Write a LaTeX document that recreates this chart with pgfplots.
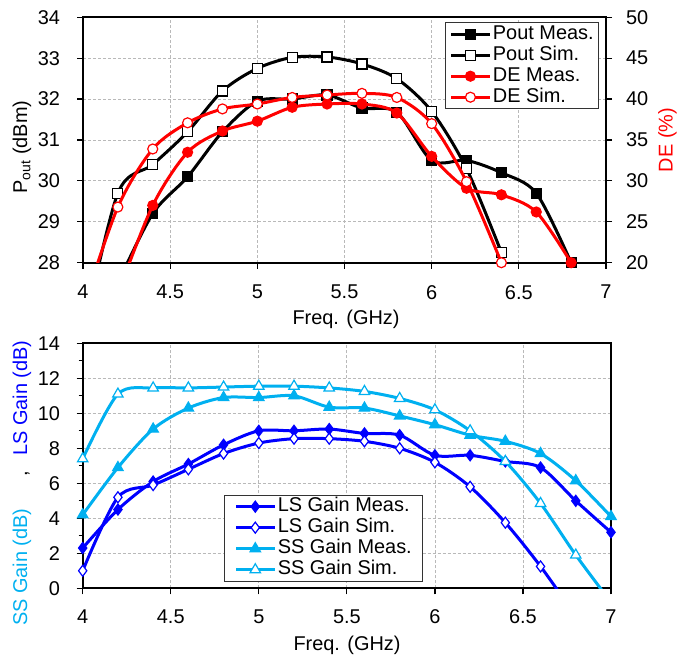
\documentclass[border=0pt]{standalone}
\usepackage{fontspec}
\setmainfont{Liberation Sans}
\usepackage{pgfplots}
\usepackage{pgfplotstable}
\pgfplotsset{compat=1.18}
\definecolor{ssblue}{RGB}{0,176,240}
\definecolor{lsblue}{RGB}{0,0,255}
\definecolor{gridgray}{RGB}{185,185,185}
\newcommand\fs{\fontsize{20}{22}\selectfont}

% series with a point outside the axis range keep it only for the curve
\pgfplotstableread{
f v
4.2 27.5
4.4 29.2
4.6 30.1
4.8 31.2
5.0 31.95
5.2 32.0
5.4 32.1
5.6 31.78
5.8 31.68
6.0 30.5
6.2 30.5
6.4 30.2
6.6 29.7
6.8 28.0
}\poutmeas
\pgfplotstableread{
f v
4.0 26.2
4.2 29.7
4.4 30.4
4.6 31.2
4.8 32.2
5.0 32.75
5.2 33.02
5.4 33.03
5.6 32.86
5.8 32.5
6.0 31.7
6.2 30.3
6.4 28.25
}\poutsim
\pgfplotstableread{
f v
4.2 16.2
4.4 27.0
4.6 33.5
4.8 36.1
5.0 37.3
5.2 39.0
5.4 39.4
5.6 39.4
5.8 38.3
6.0 33.0
6.2 29.1
6.4 28.3
6.6 26.2
6.8 20.0
}\demeas
\pgfplotstableread{
f v
4.0 14.5
4.2 26.8
4.4 33.9
4.6 37.1
4.8 38.8
5.0 39.4
5.2 40.2
5.4 40.5
5.6 40.7
5.8 40.2
6.0 37.0
6.2 29.9
6.4 20.0
}\desim
\pgfplotstableread{
f v
4.0 1.0
4.2 5.2
4.4 5.9
4.6 6.8
4.8 7.7
5.0 8.3
5.2 8.55
5.4 8.55
5.6 8.4
5.8 8.0
6.0 7.2
6.2 5.8
6.4 3.75
6.6 1.25
6.8 -1.6
}\lssim
\pgfplotstableread{
f v
4.0 7.4
4.2 11.1
4.4 11.45
4.6 11.45
4.8 11.5
5.0 11.55
5.2 11.55
5.4 11.45
5.6 11.25
5.8 10.85
6.0 10.2
6.2 9.0
6.4 7.25
6.6 4.85
6.8 1.9
7.0 -0.8
}\sssim

\pgfplotsset{
  chart/.style={
    scale only axis, xmin=4, xmax=7,
    xtick={4,4.5,...,7},
    /pgf/number format/assume math mode=true,
    tick label style={font=\fs, black},
    tick align=outside, major tick length=6bp, minor tick length=4bp,
    tick style={black, line width=1.2bp},
    axis line style={black, line width=1.8bp},
    xtick pos=bottom,
    grid=major,
    major grid style={gridgray, dash pattern=on 3bp off 2bp, line width=0.8bp},
    legend cell align=left,
    legend image code/.code={\draw[mark repeat=2,mark phase=2]
      plot coordinates {(0bp,0bp)(19bp,0bp)(38bp,0bp)};},
    legend style={font=\fs, draw=black!80, line width=1bp, fill=white,
      inner ysep=1bp, row sep=0pt, column sep=1bp,
      nodes={inner sep=1bp, text height=14.5bp, text depth=4.5bp}},
    clip mode=individual,
  },
  ser/.style={smooth, line width=3bp},
  mk/.style={mark options={solid, line width=1.2bp, fill=#1}},
  pm/.style={ser, black, mark=square*, mark size=5bp, mk=black},
  ps/.style={ser, black, mark=square*, mark size=5bp, mk=white},
  dm/.style={ser, red, mark=*, mark size=5bp, mk=red},
  ds/.style={ser, red, mark=*, mark size=5bp, mk=white},
  lm/.style={ser, lsblue, mark=diamond*, mark size=5.5bp, mk=lsblue},
  ls/.style={ser, lsblue, mark=diamond*, mark size=5.5bp, mk=white},
  sm/.style={ser, ssblue, mark=triangle*, mark size=6bp, mk=ssblue},
  ss/.style={ser, ssblue, mark=triangle*, mark size=6bp, mk=white},
}

\begin{document}
\begin{tikzpicture}
\path[use as bounding box] (0bp,0bp) rectangle (689bp,661bp);

% top: output power (left axis)
\begin{axis}[chart, at={(83bp,398.3bp)}, anchor=south west,
  width=523bp, height=245.4bp, ytick pos=left,
  ymin=28, ymax=34, ytick={28,...,34},
  xticklabel style={yshift=-13bp}, yticklabel style={xshift=-13.5bp}]
\addplot[pm, mark=none] table[x=f, y=v] {\poutmeas};
\addplot[pm, only marks, skip coords between index={0}{1}] table[x=f, y=v] {\poutmeas};
\addplot[ps, mark=none] table[x=f, y=v] {\poutsim};
\addplot[ps, only marks, skip coords between index={0}{1}] table[x=f, y=v] {\poutsim};
\end{axis}

% top: drain efficiency (right axis)
\begin{axis}[chart, at={(83bp,398.3bp)}, anchor=south west,
  width=523bp, height=245.4bp, grid=none,
  axis x line=none, axis y line*=right,
  ymin=20, ymax=50, ytick={20,25,...,50},
  yticklabel style={xshift=10.5bp},
  legend style={at={(0.987,0.98)}, anchor=north east, inner xsep=4bp}]
\addlegendimage{pm}\addlegendentry{Pout Meas.}
\addlegendimage{ps}\addlegendentry{Pout Sim.}
\addlegendimage{dm}\addlegendentry{DE Meas.}
\addlegendimage{ds}\addlegendentry{DE Sim.}
\addplot[dm, mark=none, forget plot] table[x=f, y=v] {\demeas};
\addplot[dm, only marks, forget plot, skip coords between index={0}{1}] table[x=f, y=v] {\demeas};
\addplot[ds, mark=none, forget plot] table[x=f, y=v] {\desim};
\addplot[ds, only marks, forget plot, skip coords between index={0}{1}] table[x=f, y=v] {\desim};
\end{axis}

% bottom: gains
\begin{axis}[chart, at={(82.7bp,72.7bp)}, anchor=south west,
  width=528.3bp, height=245bp, ytick pos=left,
  ymin=0, ymax=14, ytick={0,2,...,14}, minor y tick num=1,
  xticklabel style={yshift=-11.5bp}, yticklabel style={xshift=-13.2bp},
  legend style={at={(0.268,0.027)}, anchor=south west, inner xsep=10bp}]
\addlegendimage{lm}\addlegendentry{LS Gain Meas.}
\addlegendimage{ls}\addlegendentry{LS Gain Sim.}
\addlegendimage{sm}\addlegendentry{SS Gain Meas.}
\addlegendimage{ss}\addlegendentry{SS Gain Sim.}
\addplot[lm, forget plot] coordinates {
  (4.0,2.3) (4.2,4.5) (4.4,6.1) (4.6,7.1) (4.8,8.2) (5.0,9.0) (5.2,9.0) (5.4,9.1)
  (5.6,8.85) (5.8,8.75) (6.0,7.6) (6.2,7.6) (6.4,7.25) (6.6,6.9) (6.8,5.0) (7.0,3.2)};
\addplot[ls, mark=none, forget plot] table[x=f, y=v] {\lssim};
\addplot[ls, only marks, forget plot, skip coords between index={14}{15}] table[x=f, y=v] {\lssim};
\addplot[sm, forget plot] coordinates {
  (4.0,4.2) (4.2,6.9) (4.4,9.1) (4.6,10.3) (4.8,10.9) (5.0,10.9) (5.2,11.0) (5.4,10.35)
  (5.6,10.3) (5.8,9.85) (6.0,9.35) (6.2,8.75) (6.4,8.4) (6.6,7.7) (6.8,6.15) (7.0,4.1)};
\addplot[ss, mark=none, forget plot] table[x=f, y=v] {\sssim};
\addplot[ss, only marks, forget plot, skip coords between index={15}{16}] table[x=f, y=v] {\sssim};
\end{axis}

% axis titles
\node[font=\fs, rotate=90] at (22bp,514bp) {P\textsubscript{out} (dBm)};
\node[font=\fs, rotate=90, red] at (667.5bp,521bp) {DE (\%)};
\node[font=\fs] at (346bp,341.7bp) {Freq. (GHz)};
\node[font=\fs] at (347bp,16bp) {Freq. (GHz)};
\node[font=\fs, rotate=90, anchor=base west, inner sep=0pt] at (27bp,35bp)
  {\textcolor{ssblue}{SS Gain (dB)}\hspace{32bp},\hspace{15bp}\textcolor{lsblue}{LS Gain (dB)}};
\end{tikzpicture}
\end{document}
